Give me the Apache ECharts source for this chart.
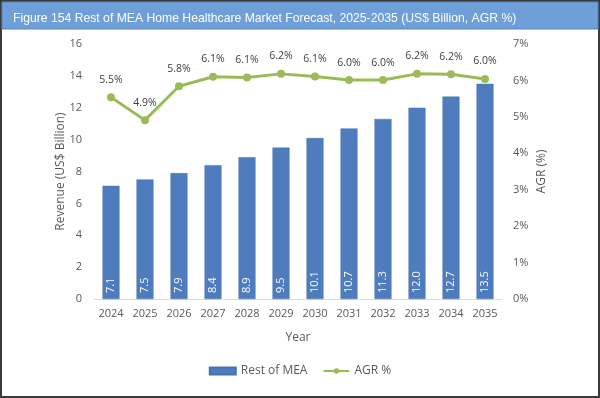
<!DOCTYPE html>
<html>
<head>
    <meta charset="utf8">
    <title>ECharts</title>
    <script src="https://cdn.jsdelivr.net/npm/echarts@6/dist/echarts.min.js"></script>
    <style>
        body { margin: 0; }
    </style>
</head>
<body>
    <div id="main" style="width: 600px;height:398px;"></div>
    <script type="text/javascript">
    var years = ['2024', '2025', '2026', '2027', '2028', '2029', '2030', '2031', '2032', '2033', '2034', '2035'];
    var revenue = [7.1, 7.5, 7.9, 8.4, 8.9, 9.5, 10.1, 10.7, 11.3, 12.0, 12.7, 13.5];
    var agr = [5.54, 4.91, 5.84, 6.10, 6.08, 6.18, 6.11, 6.01, 6.01, 6.18, 6.17, 6.04];

    var myChart = echarts.init(document.getElementById('main'));
    var font = 'Open Sans, Arial, sans-serif';
    var grey = '#595959';

    option = {
        animation: false,
        backgroundColor: '#fff',
        textStyle: { fontFamily: font },
        graphic: [
            {
                type: 'rect', z: -1,
                shape: { x: 1, y: 1, width: 598, height: 396 },
                style: { fill: '#fff', stroke: '#3a3a3a', lineWidth: 2 }
            },
            {
                type: 'rect', z: 0,
                shape: { x: 2, y: 2, width: 596, height: 27 },
                style: { fill: '#6f9fd8', stroke: '#5a86bd', lineWidth: 1 }
            }
        ],
        title: {
            text: 'Figure 154 Rest of MEA Home Healthcare Market Forecast, 2025-2035 (US$ Billion, AGR %)',
            left: 8, top: 8,
            textStyle: { color: '#fff', fontSize: 12.2, fontWeight: 'normal', fontFamily: 'Liberation Sans, Arial, sans-serif' }
        },
        legend: {
            bottom: 16,
            left: 'center',
            itemGap: 15,
            itemWidth: 26,
            itemHeight: 7,
            textStyle: { color: grey, fontSize: 12 },
            data: [
                { name: 'Rest of MEA', icon: 'rect' },
                { name: 'AGR %' }
            ]
        },
        grid: { left: 94, right: 98, top: 44, bottom: 99 },
        xAxis: {
            type: 'category',
            data: years,
            name: 'Year',
            nameLocation: 'middle',
            nameGap: 33,
            nameMoveOverlap: false,
            nameTextStyle: { color: grey, fontSize: 12 },
            axisTick: { show: false },
            axisLine: { lineStyle: { color: '#d9d9d9' } },
            axisLabel: { color: grey, fontSize: 11, margin: 9 }
        },
        yAxis: [
            {
                type: 'value',
                min: 0, max: 16, interval: 2,
                name: 'Revenue (US$ Billion)',
                nameLocation: 'middle',
                nameGap: 27,
                nameMoveOverlap: false,
                nameTextStyle: { color: grey, fontSize: 12 },
                splitLine: { show: false },
                axisLine: { show: false },
                axisTick: { show: false },
                axisLabel: { color: grey, fontSize: 11, margin: 12 }
            },
            {
                type: 'value',
                min: 0, max: 7, interval: 1,
                name: 'AGR (%)',
                nameLocation: 'middle',
                nameGap: 34,
                nameMoveOverlap: false,
                nameTextStyle: { color: grey, fontSize: 12 },
                splitLine: { show: false },
                axisLine: { show: false },
                axisTick: { show: false },
                axisLabel: { color: grey, fontSize: 11, margin: 11, formatter: '{value}%' }
            }
        ],
        series: [
            {
                name: 'Rest of MEA',
                type: 'bar',
                data: revenue,
                barWidth: 17,
                itemStyle: { color: '#4f7cbd', borderColor: '#4572b0', borderWidth: 0.5 },
                label: {
                    show: true,
                    position: 'insideBottom',
                    rotate: 90,
                    align: 'left',
                    verticalAlign: 'middle',
                    distance: 6,
                    color: '#fff',
                    fontSize: 11,
                    formatter: function (p) { return p.value.toFixed(1); }
                }
            },
            {
                name: 'AGR %',
                type: 'line',
                yAxisIndex: 1,
                data: agr,
                symbol: 'circle',
                symbolSize: 8,
                lineStyle: { color: '#9bbb59', width: 3 },
                itemStyle: { color: '#9bbb59' },
                label: {
                    show: true,
                    position: 'top',
                    distance: 8,
                    color: '#404040',
                    fontSize: 10.5,
                    formatter: function (p) { return p.value.toFixed(1) + '%'; }
                }
            }
        ]
    };
    myChart.setOption(option);
    </script>
</body>
</html>
